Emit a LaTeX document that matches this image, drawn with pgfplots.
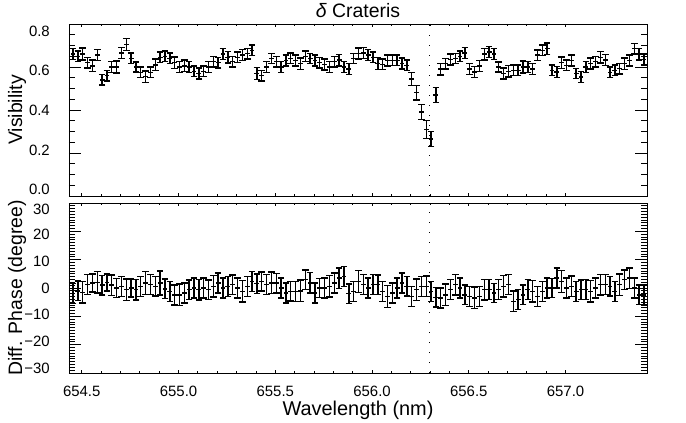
\documentclass[border=0pt]{standalone}
\usepackage{fontspec}
\setmainfont{Liberation Sans}
\usepackage{pgfplots}
\usepackage{pgfplotstable}
\pgfplotsset{compat=1.18}

\pgfplotstableread{
lam V dV P dP
654.455 0.660 0.025 -2.0 3.5
654.480 0.650 0.025 -1.0 3.5
654.505 0.660 0.028 -1.5 3.8
654.530 0.620 0.025 1.2 3.5
654.555 0.605 0.027 1.8 3.2
654.580 0.655 0.025 2.0 3.8
654.605 0.540 0.024 1.0 3.5
654.630 0.560 0.025 2.0 3.0
654.655 0.600 0.025 1.0 3.6
654.680 0.600 0.028 0.0 3.4
654.705 0.665 0.025 0.6 3.5
654.730 0.705 0.027 -0.6 3.8
654.755 0.640 0.025 0.0 3.2
654.780 0.600 0.024 -0.6 3.6
654.805 0.575 0.025 0.6 3.5
654.830 0.555 0.026 1.8 4.0
654.855 0.575 0.025 1.2 3.5
654.880 0.610 0.027 0.6 3.4
654.905 0.645 0.025 1.8 4.2
654.930 0.650 0.024 -0.3 3.5
654.955 0.640 0.025 -1.2 3.6
654.980 0.620 0.026 -2.5 3.5
655.005 0.600 0.025 -2.4 3.8
655.030 0.605 0.027 -1.8 3.5
655.055 0.600 0.025 -0.6 3.4
655.080 0.580 0.024 0.0 3.5
655.105 0.570 0.025 -0.6 3.6
655.130 0.580 0.025 0.0 3.5
655.155 0.600 0.026 -0.6 3.4
655.180 0.625 0.025 0.6 3.8
655.205 0.620 0.024 1.8 3.5
655.230 0.660 0.025 0.0 3.6
655.255 0.645 0.027 0.6 3.5
655.280 0.625 0.025 1.2 3.4
655.305 0.645 0.025 0.0 3.5
655.330 0.655 0.026 -1.2 3.8
655.355 0.662 0.025 0.6 3.5
655.380 0.678 0.025 2.3 3.6
655.405 0.570 0.027 1.5 3.5
655.430 0.560 0.025 2.3 3.4
655.455 0.600 0.025 1.2 3.5
655.480 0.640 0.024 1.8 3.8
655.505 0.625 0.025 1.7 3.5
655.530 0.600 0.026 0.0 3.6
655.555 0.630 0.025 -1.8 3.5
655.580 0.640 0.025 -1.2 3.4
655.605 0.630 0.025 -1.2 3.5
655.630 0.615 0.027 -1.0 3.8
655.655 0.650 0.025 2.9 3.5
655.680 0.640 0.024 1.8 3.6
655.705 0.630 0.025 -1.8 3.5
655.730 0.620 0.025 0.0 3.4
655.755 0.612 0.026 0.0 3.5
655.780 0.600 0.025 0.6 3.8
655.805 0.625 0.025 1.8 3.5
655.830 0.632 0.027 3.5 3.6
655.855 0.600 0.025 4.1 3.5
655.880 0.590 0.025 -2.0 3.4
655.905 0.640 0.024 -1.2 3.5
655.930 0.663 0.025 2.3 3.8
655.955 0.665 0.026 1.2 3.5
655.980 0.655 0.025 0.0 3.6
656.005 0.645 0.025 1.2 3.5
656.030 0.616 0.027 1.2 3.4
656.055 0.612 0.025 -1.2 3.5
656.080 0.630 0.025 -3.0 3.8
656.105 0.631 0.024 -1.8 3.5
656.130 0.631 0.025 0.0 3.6
656.155 0.616 0.026 1.8 3.5
656.180 0.608 0.025 0.6 3.4
656.205 0.545 0.030 -3.0 3.5
656.230 0.480 0.033 -0.6 3.8
656.255 0.390 0.035 0.6 3.5
656.280 0.310 0.042 0.6 3.6
656.305 0.265 0.035 -1.2 3.5
656.330 0.470 0.035 -3.3 3.4
656.355 0.590 0.027 -3.5 3.5
656.380 0.615 0.025 -2.4 3.8
656.405 0.635 0.025 -0.6 3.5
656.430 0.640 0.024 1.2 3.6
656.455 0.650 0.025 0.0 3.5
656.480 0.665 0.025 -2.4 3.4
656.505 0.590 0.026 -3.0 3.5
656.530 0.577 0.025 -3.5 3.8
656.555 0.605 0.025 -3.0 3.5
656.580 0.660 0.027 -0.6 3.6
656.605 0.670 0.025 -0.6 3.5
656.630 0.660 0.025 -1.8 3.4
656.655 0.600 0.024 -0.6 3.5
656.680 0.570 0.025 0.6 3.8
656.705 0.580 0.026 1.2 3.5
656.730 0.585 0.025 -4.7 3.6
656.755 0.585 0.025 -4.1 3.5
656.780 0.600 0.027 -2.4 3.4
656.805 0.600 0.025 -0.6 3.5
656.830 0.590 0.025 -1.2 3.8
656.855 0.655 0.024 -3.0 3.5
656.880 0.678 0.025 -1.2 3.6
656.905 0.685 0.026 0.0 3.5
656.930 0.585 0.025 0.0 3.4
656.955 0.577 0.025 3.5 3.5
656.980 0.620 0.027 2.3 3.8
657.005 0.608 0.025 0.0 3.5
657.030 0.630 0.025 0.6 3.6
657.055 0.570 0.024 -1.2 3.5
657.080 0.553 0.025 -0.6 3.4
657.105 0.600 0.026 -0.6 3.5
657.130 0.616 0.025 -1.2 3.8
657.155 0.625 0.025 0.0 3.5
657.180 0.645 0.027 1.2 3.6
657.205 0.632 0.025 1.2 3.5
657.230 0.575 0.025 0.6 3.4
657.255 0.585 0.024 -1.2 3.5
657.280 0.592 0.025 1.2 3.8
657.305 0.615 0.026 2.9 3.5
657.330 0.630 0.025 3.5 3.6
657.355 0.685 0.025 0.0 3.5
657.380 0.660 0.027 -2.4 3.4
657.405 0.635 0.025 -2.4 3.5
}\data

\newcommand{\lift}[2]{\raisebox{#1}[\height][\depth]{#2}}

\pgfplotsset{
  common/.style={
    scale only axis, width=578bp,
    xmin=654.434, xmax=657.421,
    xtick={654.5,655.0,655.5,656.0,656.5,657.0},
    minor x tick num=4,
    scaled x ticks=false,
    axis line style={line width=0.8bp},
    every tick/.style={black, line width=0.8bp},
    xtick style={/pgfplots/major tick length=3.4bp, /pgfplots/minor tick length=1.7bp},
    ytick style={/pgfplots/major tick length=11.6bp, /pgfplots/minor tick length=5.8bp},
    tick align=inside,
    xtick pos=both, ytick pos=both,
    tick label style={font=\fontsize{15}{15}\selectfont},
    yticklabel style={anchor=east, inner sep=0pt, xshift=-19bp},
    xticklabel style={anchor=north, inner sep=0pt, yshift=-13bp},
    every axis y label/.style={at={(axis description cs:-0.090,0.5)}, rotate=90, anchor=center, font=\fontsize{19.5}{20}\selectfont},
    every axis x label/.style={at={(axis description cs:0.5,0)}, anchor=north, inner sep=0pt, yshift=-28bp, font=\fontsize{20}{20}\selectfont},
    every axis title/.style={at={(axis description cs:0.5,1)}, anchor=south, inner sep=0pt, yshift=6bp, font=\fontsize{19.5}{20}\selectfont},
  },
  xerr/.style={black, draw=none, mark=none, forget plot,
    error bars/.cd, x dir=both, x fixed=0.0125, error mark=none,
    error bar style={draw=black, line width=1.4bp}},
  yerr/.style={black, draw=none, mark=none, forget plot,
    error bars/.cd, y dir=both, y explicit,
    error bar style={draw=black, line width=1.4bp},
    error mark=-,
    error mark options={rotate=90, draw=black, mark size=3.3bp, line width=1.4bp}},
}

\begin{document}
\begin{tikzpicture}
\path[use as bounding box] (-69bp,-50bp) rectangle (617bp,373bp);

\begin{axis}[common,
  at={(0bp,177bp)}, anchor=south west, height=172bp,
  ymin=0, ymax=0.8,
  ytick={0,0.2,0.4,0.6,0.8},
  yticklabels={\lift{7bp}{0.0},\lift{3bp}{0.2},0.4,\lift{-3bp}{0.6},\lift{-7bp}{0.8}},
  minor y tick num=3,
  xticklabels={},
  ylabel={Visibility},
  title={\textit{δ} Crateris},
]
\addplot[black, dash pattern=on 1.2bp off 8.8bp, line width=1bp] coordinates {(656.296,0) (656.296,0.8)};
\addplot[xerr] table[x=lam, y=V] {\data};
\addplot[yerr] table[x=lam, y=V, y error=dV] {\data};
\end{axis}

\begin{axis}[common,
  at={(0bp,0bp)}, anchor=south west, height=170bp,
  ymin=-30, ymax=30,
  ytick={-30,-20,-10,0,10,20,30},
  yticklabels={\lift{5bp}{−30},\lift{3bp}{−20},\lift{1.5bp}{−10},0,\lift{-1.5bp}{10},\lift{-3bp}{20},\lift{-6bp}{30}},
  minor y tick num=9,
  xticklabels={654.5,655.0,655.5,656.0,656.5,657.0},
  xlabel={Wavelength (nm)},
  ylabel={Diff. Phase (degree)},
]
\addplot[black, dash pattern=on 1.2bp off 8.8bp, line width=1bp] coordinates {(656.296,-30) (656.296,30)};
\addplot[xerr] table[x=lam, y=P] {\data};
\addplot[yerr] table[x=lam, y=P, y error=dP] {\data};
\end{axis}
\end{tikzpicture}
\end{document}
